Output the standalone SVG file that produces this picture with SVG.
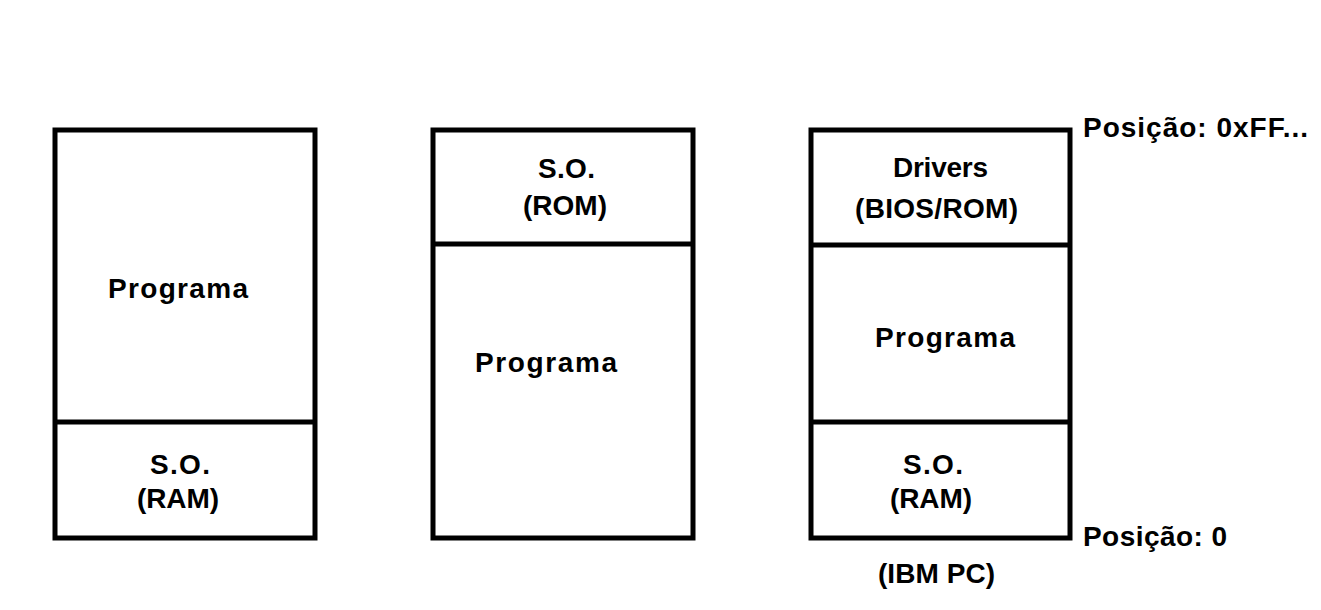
<svg xmlns="http://www.w3.org/2000/svg" width="1321" height="610" viewBox="0 0 1321 610">
<style>
.box{fill:#fff;stroke:#000;stroke-width:5}
.div{stroke:#000;stroke-width:5}
text{font-family:"Liberation Sans",Arial,sans-serif;font-weight:bold;font-size:28px;fill:#000}
</style>
<rect width="1321" height="610" fill="#fff"/>
<g id="mem1">
<rect class="box" x="55" y="130" width="260" height="408"/>
<line class="div" x1="55" y1="422" x2="315" y2="422"/>
<g id="mem1-programa"><text x="108" y="298" textLength="140" lengthAdjust="spacing">Programa</text></g>
<g id="mem1-so"><text x="150" y="474" textLength="60" lengthAdjust="spacing">S.O.</text>
<text x="137" y="508" textLength="82" lengthAdjust="spacing">(RAM)</text></g>
</g>
<g id="mem2">
<rect class="box" x="433" y="130" width="260" height="408"/>
<line class="div" x1="433" y1="244" x2="693" y2="244"/>
<g id="mem2-so"><text x="538" y="178" textLength="57" lengthAdjust="spacing">S.O.</text>
<text x="523" y="215" textLength="84" lengthAdjust="spacing">(ROM)</text></g>
<g id="mem2-programa"><text x="475" y="372" textLength="142" lengthAdjust="spacing">Programa</text></g>
</g>
<g id="mem3">
<rect class="box" x="811" y="130" width="259" height="408"/>
<line class="div" x1="811" y1="245" x2="1070" y2="245"/>
<line class="div" x1="811" y1="422" x2="1070" y2="422"/>
<g id="mem3-drivers"><text x="893" y="177" textLength="95" lengthAdjust="spacing">Drivers</text>
<text x="855" y="218" textLength="163" lengthAdjust="spacing">(BIOS/ROM)</text></g>
<g id="mem3-programa"><text x="875" y="347" textLength="140" lengthAdjust="spacing">Programa</text></g>
<g id="mem3-so"><text x="903" y="474" textLength="60" lengthAdjust="spacing">S.O.</text>
<text x="890" y="508" textLength="82" lengthAdjust="spacing">(RAM)</text></g>
</g>
<g id="labels">
<text x="1083" y="137" textLength="225" lengthAdjust="spacing">Posição: 0xFF...</text>
<text x="1083" y="546" textLength="144" lengthAdjust="spacing">Posição: 0</text>
<text x="878" y="583" textLength="117" lengthAdjust="spacing">(IBM PC)</text>
</g>
</svg>
